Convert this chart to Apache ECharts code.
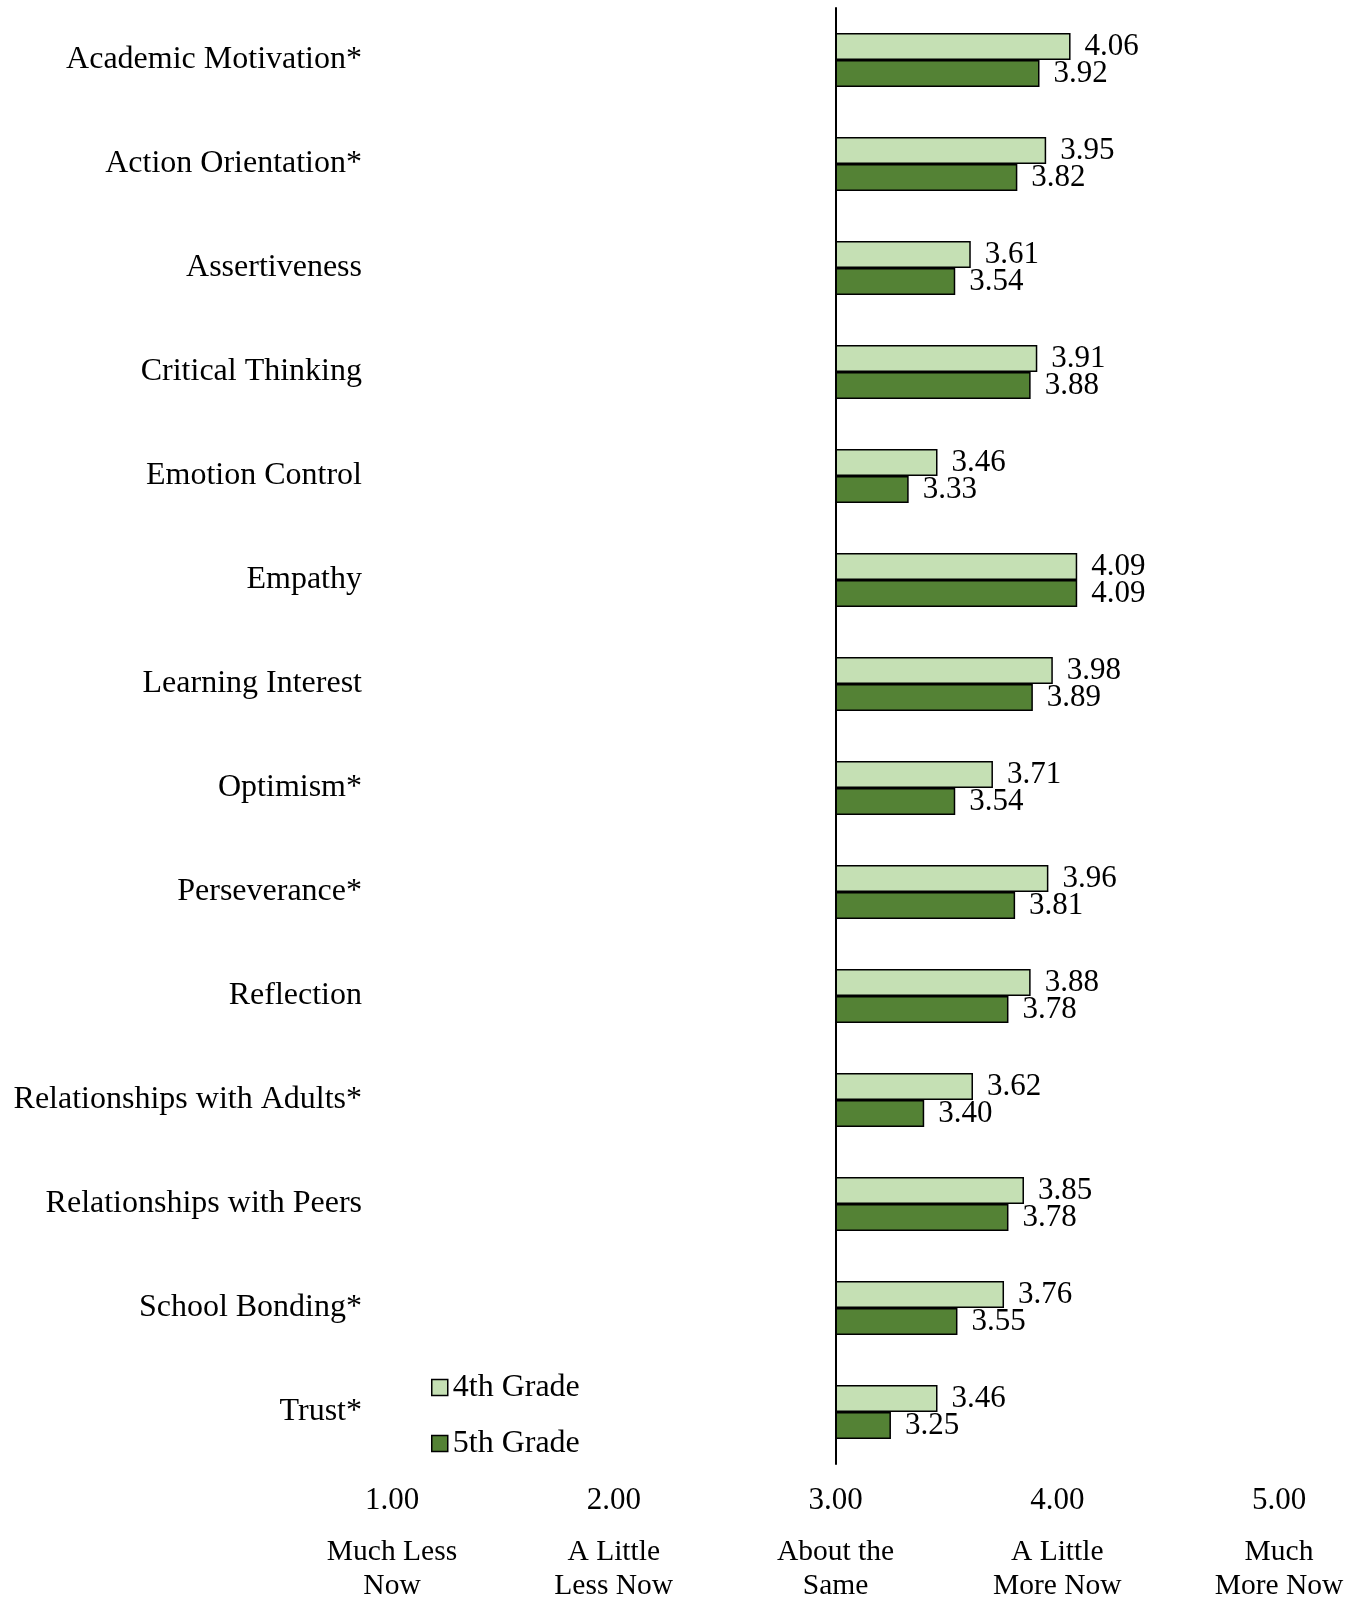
<!DOCTYPE html>
<html>
<head>
<meta charset="utf-8">
<script src="https://cdn.jsdelivr.net/npm/echarts@6/dist/echarts.min.js"></script>
<style>
  html, body { margin: 0; padding: 0; background: #fff; }
  #chart { width: 1364px; height: 1604px; }
</style>
</head>
<body>
<div id="chart"></div>
<script>
const categories = [
  "Academic Motivation*",
  "Action Orientation*",
  "Assertiveness",
  "Critical Thinking",
  "Emotion Control",
  "Empathy",
  "Learning Interest",
  "Optimism*",
  "Perseverance*",
  "Reflection",
  "Relationships with Adults*",
  "Relationships with Peers",
  "School Bonding*",
  "Trust*"
]
const grade4 = [4.06, 3.95, 3.61, 3.91, 3.46, 4.09, 3.98, 3.71, 3.96, 3.88, 3.62, 3.85, 3.76, 3.46]
const grade5 = [3.92, 3.82, 3.54, 3.88, 3.33, 4.09, 3.89, 3.54, 3.81, 3.78, 3.40, 3.78, 3.55, 3.25]
const tickValues = [1, 2, 3, 4, 5]
const tickLabels = ["Much Less\nNow", "A Little\nLess Now", "About the\nSame", "A Little\nMore Now", "Much\nMore Now"]

// bars grow out of the midpoint ("About the Same"), so plot offsets from it
const mid = 3
const font = '"Liberation Serif", "Times New Roman", serif'

const chart = echarts.init(document.getElementById("chart"))

const barSeries = (name, values, color) => ({
  name,
  type: "bar",
  data: values.map((v) => +(v - mid).toFixed(2)),
  barWidth: 27,
  barGap: "0%",
  itemStyle: { color, borderColor: "#000", borderWidth: 1.5 },
  label: {
    show: true,
    position: "right",
    distance: 14,
    color: "#000",
    fontFamily: font,
    fontSize: 31,
    formatter: (p) => values[p.dataIndex].toFixed(2),
  },
})

chart.setOption({
  animation: false,
  textStyle: { fontFamily: font },
  grid: { left: 392, right: 85, top: 8, bottom: 140, containLabel: false },
  legend: {
    orient: "vertical",
    left: 426,
    top: 1366,
    icon: "rect",
    itemWidth: 16,
    itemHeight: 16,
    itemGap: 23,
    itemStyle: { borderColor: "#000", borderWidth: 1.5 },
    textStyle: { fontFamily: font, fontSize: 32, color: "#000", lineHeight: 33 },
    data: ["4th Grade", "5th Grade"],
  },
  xAxis: {
    type: "value",
    min: tickValues[0] - mid,
    max: tickValues[tickValues.length - 1] - mid,
    interval: 1,
    axisLine: { show: false },
    axisTick: { show: false },
    splitLine: { show: false },
    axisLabel: {
      margin: 3,
      color: "#000",
      formatter: (v) => {
        const i = tickValues.indexOf(v + mid)
        const lines = tickLabels[i].split("\n").map((s) => `{d|${s}}`).join("\n")
        return `{v|${(v + mid).toFixed(2)}}\n${lines}`
      },
      rich: {
        v: { fontFamily: font, fontSize: 31, lineHeight: 68, color: "#000" },
        d: { fontFamily: font, fontSize: 29.5, lineHeight: 34, color: "#000" },
      },
    },
  },
  yAxis: {
    type: "category",
    inverse: true,
    data: categories,
    axisLine: { show: true, onZero: true, lineStyle: { color: "#000", width: 2 } },
    axisTick: { show: false },
    axisLabel: {
      show: true,
      margin: 30,
      color: "#000",
      fontFamily: font,
      fontSize: 32,
    },
  },
  series: [
    barSeries("4th Grade", grade4, "#C5E0B4"),
    barSeries("5th Grade", grade5, "#548235"),
  ],
})
</script>
</body>
</html>
